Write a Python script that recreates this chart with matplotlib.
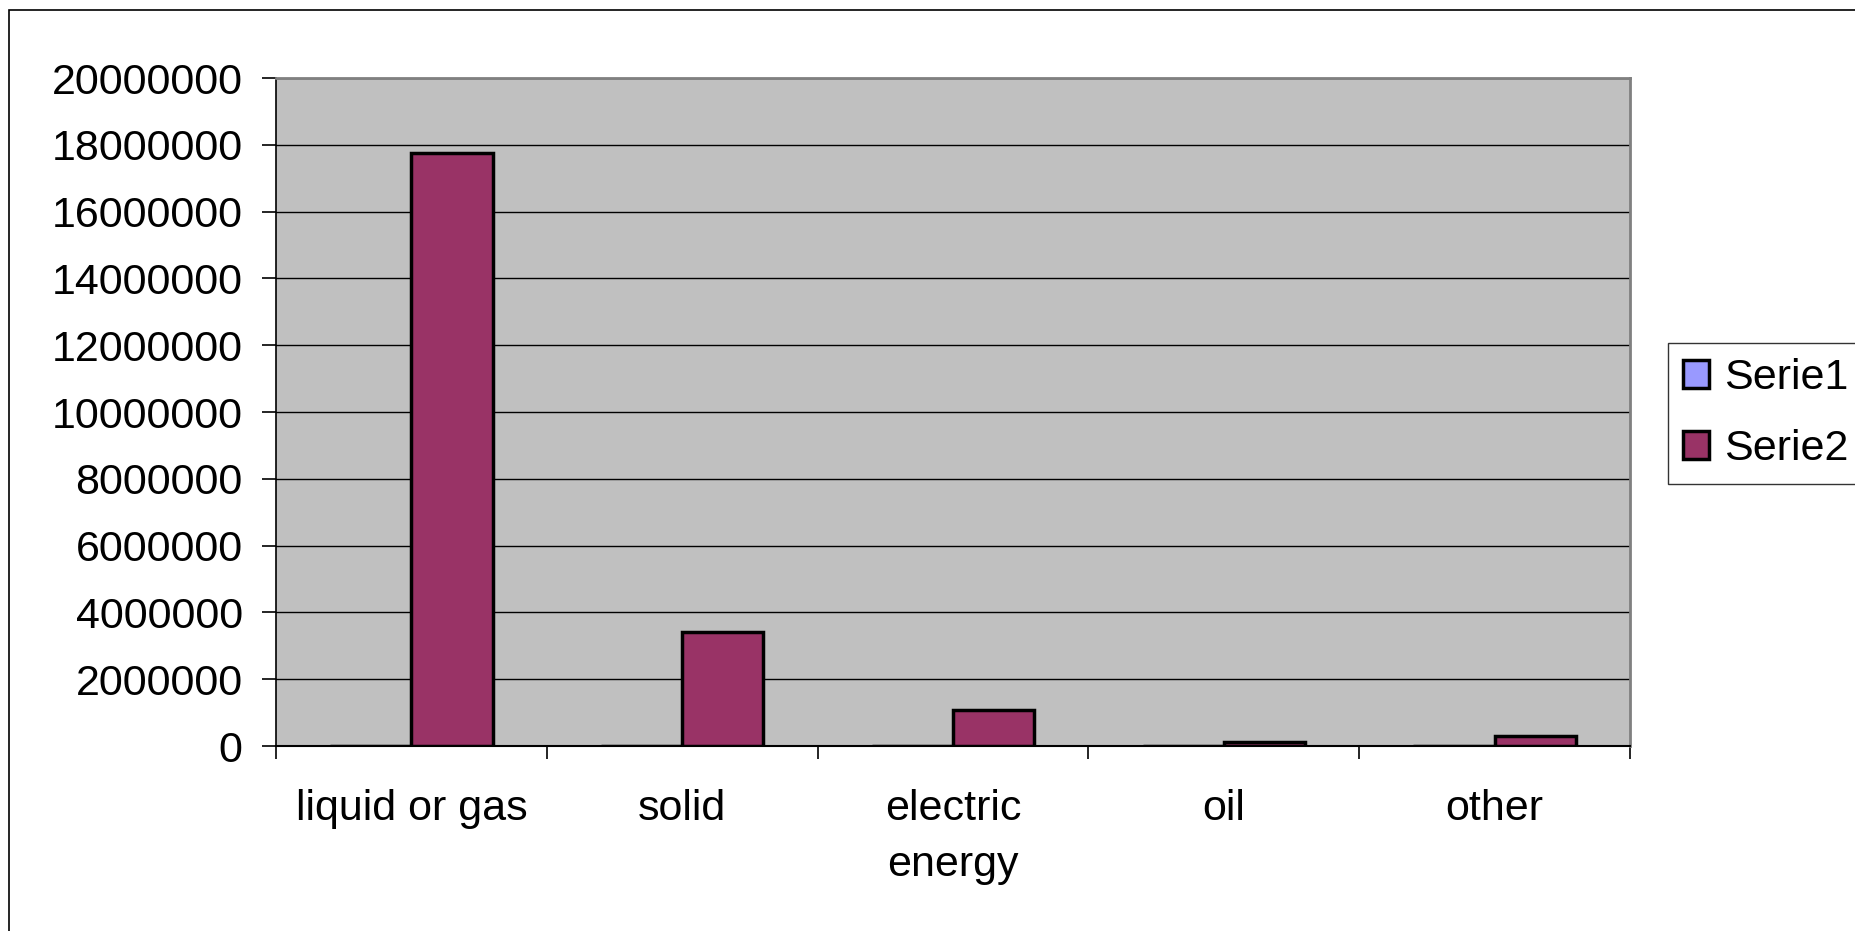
import numpy as np
import matplotlib
matplotlib.use('Agg')
import matplotlib.pyplot as plt
import matplotlib.ticker as ticker
from matplotlib.patches import Rectangle

plt.rcParams['font.family'] = ['Liberation Sans', 'DejaVu Sans']

categories = ['liquid or gas', 'solid', 'electric\nenergy', 'oil', 'other']
serie1 = [0, 0, 0, 0, 0]
serie2 = [17750000, 3410000, 1070000, 130000, 310000]
yticks = list(range(0, 20000001, 2000000))


def main():
    fig = plt.figure(figsize=(18.56, 9.31), dpi=100)
    ax = fig.add_axes([276/1856, 1-746/931, (1630-276)/1856, (746-78)/931])
    ax.set_facecolor('#C0C0C0')

    x = np.arange(len(categories))
    w = 0.30
    ax.bar(x - w/2, serie1, w, color='#9999FF', edgecolor='black', linewidth=2.5,
           label='Serie1', zorder=3)
    ax.bar(x + w/2, serie2, w, color='#993366', edgecolor='black', linewidth=2.5,
           label='Serie2', zorder=3)

    ax.set_xlim(-0.5, len(categories) - 0.5)
    ax.set_ylim(0, 20000000)
    ax.set_yticks(yticks)
    ax.set_yticklabels([str(v) for v in yticks])
    ax.yaxis.grid(True, color='black', linewidth=1)
    ax.set_axisbelow(True)

    ax.set_xticks(x)
    ax.set_xticklabels(categories, linespacing=1.5)
    ax.xaxis.set_minor_locator(ticker.FixedLocator(np.arange(-0.5, len(categories), 1.0)))
    ax.tick_params(axis='x', which='major', length=0, pad=31, labelsize=31)
    ax.tick_params(axis='x', which='minor', length=9.5, width=1.2, color='black')
    ax.tick_params(axis='y', length=10, width=1.2, pad=14, labelsize=31)

    for s in ['top', 'right']:
        ax.spines[s].set_color('#808080')
        ax.spines[s].set_linewidth(2)
    ax.spines['left'].set_color('black')
    ax.spines['bottom'].set_color('black')
    ax.spines['left'].set_linewidth(1.2)
    ax.spines['bottom'].set_linewidth(1.5)

    fig.legend(loc='upper left', bbox_to_anchor=(1668/1856, 1-343/931),
               fontsize=31, frameon=True, fancybox=False, edgecolor='black',
               handlelength=0.6, handleheight=0.6, handletextpad=0.35,
               borderpad=0.35, labelspacing=0.72, borderaxespad=0)
    leg = fig.legends[0]
    leg.get_frame().set_linewidth(1)

    # outer chart border (cut at right and bottom)
    fig.patches.append(Rectangle((9.5/1856, -0.02), 1.05, 1 - 9.5/931 + 0.02,
                                 transform=fig.transFigure, fill=False,
                                 edgecolor='black', linewidth=1.2))

    fig.savefig('out.png', dpi=100)


if __name__ == '__main__':
    main()
